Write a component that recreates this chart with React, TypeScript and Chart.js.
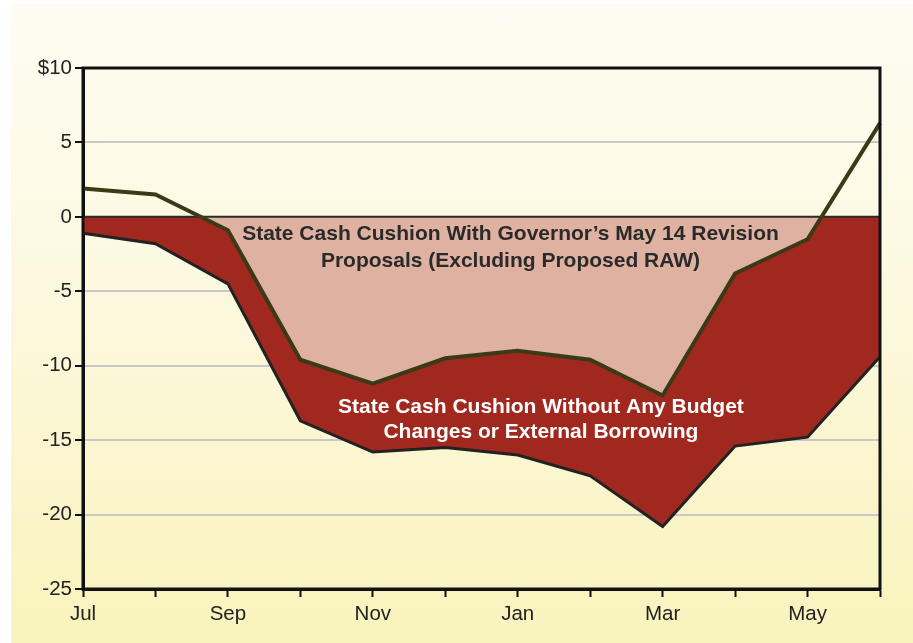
import React, { useEffect, useRef } from "react";
import { Chart, registerables } from "chart.js";

Chart.register(...registerables);

const months = ["Jul", "Aug", "Sep", "Oct", "Nov", "Dec", "Jan", "Feb", "Mar", "Apr", "May", "Jun"];
const withRevision = [1.9, 1.5, -0.9, -9.6, -11.2, -9.5, -9.0, -9.6, -12.0, -3.8, -1.5, 6.3];
const withoutChanges = [-1.1, -1.8, -4.5, -13.7, -15.8, -15.5, -16.0, -17.4, -20.8, -15.4, -14.8, -9.4];
const yTicks = [10, 5, 0, -5, -10, -15, -20, -25];
const labelWith = ["State Cash Cushion With Governor\u2019s May 14 Revision", "Proposals (Excluding Proposed RAW)"];
const labelWithout = ["State Cash Cushion Without Any Budget", "Changes or External Borrowing"];

const FONT = "'Liberation Sans', Arial, Helvetica, sans-serif";

export default function App() {
  const ref = useRef<HTMLCanvasElement | null>(null);

  useEffect(() => {
    const canvas = ref.current;
    if (!canvas) return;

    const overlay = {
      id: "overlay",
      beforeDatasetDraw(chart: any, args: any) {
        if (args.index !== 0) return;
        const { ctx, chartArea } = chart;
        const y0 = chart.scales.y.getPixelForValue(0);
        ctx.save();
        ctx.strokeStyle = "#2a2a2a";
        ctx.lineWidth = 2;
        ctx.beginPath();
        ctx.moveTo(chartArea.left, y0);
        ctx.lineTo(chartArea.right, y0);
        ctx.stroke();
        ctx.restore();
      },
      afterDatasetsDraw(chart: any) {
        const { ctx, chartArea, scales } = chart;
        ctx.save();
        ctx.strokeStyle = "#111";
        ctx.lineWidth = 3;
        ctx.strokeRect(chartArea.left, chartArea.top, chartArea.right - chartArea.left, chartArea.bottom - chartArea.top);
        ctx.font = `bold 21px ${FONT}`;
        ctx.textAlign = "center";
        ctx.textBaseline = "middle";
        ctx.fillStyle = "#2a2a2a";
        const x1 = scales.x.getPixelForValue(5.9);
        ctx.fillText(labelWith[0], x1, scales.y.getPixelForValue(-1.15));
        ctx.fillText(labelWith[1], x1, scales.y.getPixelForValue(-3.0));
        ctx.fillStyle = "#ffffff";
        const x2 = scales.x.getPixelForValue(6.32);
        ctx.fillText(labelWithout[0], x2, scales.y.getPixelForValue(-12.8));
        ctx.fillText(labelWithout[1], x2, scales.y.getPixelForValue(-14.5));
        ctx.restore();
      },
    };

    const chart = new Chart(canvas, {
      type: "line",
      data: {
        labels: months,
        datasets: [
          {
            label: "With Governor's May Revision",
            data: withRevision,
            borderColor: "#3a3a16",
            borderWidth: 4,
            pointRadius: 0,
            tension: 0,
            fill: { target: { value: 0 }, above: "rgba(0,0,0,0)", below: "#dfb1a0" },
          },
          {
            label: "Without Any Budget Changes",
            data: withoutChanges,
            borderColor: "#222222",
            borderWidth: 3,
            pointRadius: 0,
            tension: 0,
            fill: { target: "origin", above: "rgba(0,0,0,0)", below: "#a0281e" },
            backgroundColor: "#a0281e",
          },
        ],
      },
      options: {
        responsive: false,
        animation: false,
        events: [],
        layout: { padding: { left: 0, right: 33, top: 64, bottom: 0 } },
        plugins: { legend: { display: false }, tooltip: { enabled: false } },
        scales: {
          x: {
            type: "category",
            offset: false,
            afterFit: (s: any) => { s.height = 54; },
            grid: {
              drawOnChartArea: false,
              tickLength: 8,
              tickColor: "#111",
              tickWidth: 2,
            },
            border: { display: true, color: "#111", width: 3 },
            ticks: {
              autoSkip: false,
              maxRotation: 0,
              padding: 5,
              color: "#222",
              font: { family: FONT, size: 20.5 },
              callback: (_v: any, i: number) => (i % 2 === 0 ? months[i] : ""),
            },
          },
          y: {
            min: -25,
            max: 10,
            afterFit: (s: any) => { s.width = 72; },
            afterBuildTicks: (s: any) => { s.ticks = yTicks.map((v) => ({ value: v })); },
            grid: {
              color: (c: any) => (c.tick && c.tick.value === 0 ? "#2a2a2a" : "#c8c8c8"),
              lineWidth: 2,
              tickLength: 8,
              tickColor: "#111",
              tickWidth: 2,
            },
            border: { display: true, color: "#111", width: 3 },
            ticks: {
              padding: 3,
              color: "#222",
              font: { family: FONT, size: 20.5 },
              callback: (v: any) => (v === 10 ? "$10" : String(v)),
            },
          },
        },
      },
      plugins: [overlay],
    });
    return () => chart.destroy();
  }, []);

  return (
    <div
      style={{
        position: "absolute",
        left: 11,
        top: 4,
        width: 902,
        height: 639,
        background: "linear-gradient(to bottom, #fefcf3 0%, #fcf8dc 50%, #f9f3bc 100%)",
      }}
    >
      <canvas ref={ref} width={902} height={639} style={{ display: "block", width: 902, height: 639 }} />
    </div>
  );
}
